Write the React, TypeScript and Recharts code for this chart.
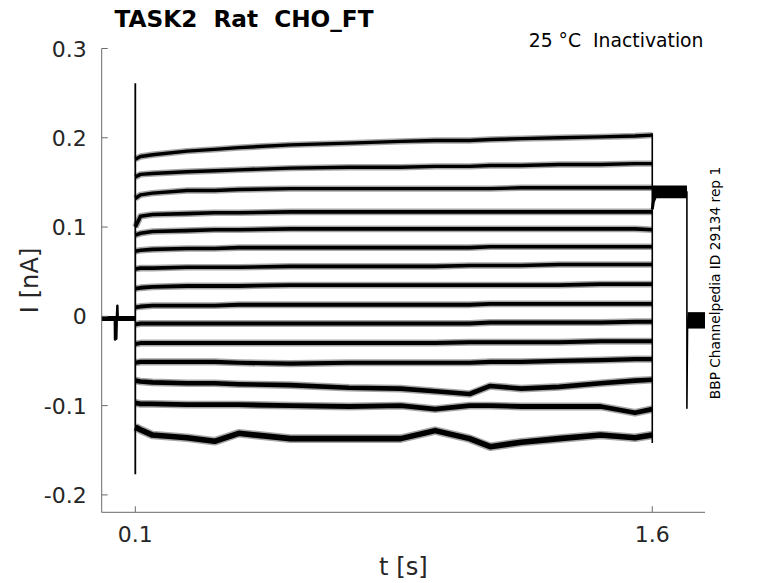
import React from 'react';
import { LineChart, Line, XAxis, YAxis } from 'recharts';

// ---- data ----
const STEP_T = [0.1, 0.115, 0.15, 0.25, 0.33, 0.4, 0.55, 0.72, 0.87, 0.97, 1.07, 1.13, 1.22, 1.33, 1.45, 1.55, 1.6];

const TRACE_01 = [0.176, 0.179, 0.181, 0.185, 0.187, 0.189, 0.192, 0.194, 0.196, 0.197, 0.197, 0.198, 0.199, 0.2, 0.201, 0.202, 0.203];
const TRACE_02 = [0.156, 0.159, 0.16, 0.162, 0.163, 0.164, 0.166, 0.167, 0.167, 0.168, 0.168, 0.169, 0.169, 0.17, 0.17, 0.171, 0.171];
const TRACE_03 = [0.132, 0.136, 0.138, 0.141, 0.141, 0.142, 0.143, 0.143, 0.143, 0.143, 0.143, 0.143, 0.144, 0.144, 0.144, 0.144, 0.144];
const TRACE_04 = [0.1, 0.112, 0.114, 0.115, 0.116, 0.116, 0.117, 0.117, 0.117, 0.117, 0.117, 0.117, 0.117, 0.117, 0.117, 0.117, 0.117];
const TRACE_05 = [0.091, 0.093, 0.095, 0.096, 0.097, 0.097, 0.098, 0.098, 0.098, 0.098, 0.098, 0.098, 0.098, 0.098, 0.098, 0.098, 0.097];
const TRACE_06 = [0.073, 0.074, 0.075, 0.076, 0.076, 0.077, 0.077, 0.077, 0.077, 0.077, 0.077, 0.078, 0.078, 0.078, 0.078, 0.078, 0.078];
const TRACE_07 = [0.053, 0.054, 0.054, 0.055, 0.055, 0.055, 0.056, 0.056, 0.056, 0.056, 0.057, 0.057, 0.057, 0.058, 0.058, 0.058, 0.058];
const TRACE_08 = [0.031, 0.032, 0.033, 0.034, 0.034, 0.034, 0.035, 0.035, 0.035, 0.035, 0.035, 0.035, 0.035, 0.035, 0.036, 0.036, 0.036];
const TRACE_09 = [0.01, 0.011, 0.012, 0.012, 0.012, 0.013, 0.013, 0.013, 0.013, 0.013, 0.013, 0.014, 0.014, 0.014, 0.014, 0.014, 0.014];
const TRACE_10 = [-0.009, -0.008, -0.008, -0.008, -0.008, -0.008, -0.008, -0.008, -0.008, -0.008, -0.008, -0.007, -0.007, -0.007, -0.007, -0.006, -0.006];
const TRACE_11 = [-0.031, -0.03, -0.03, -0.03, -0.03, -0.03, -0.03, -0.03, -0.03, -0.03, -0.029, -0.029, -0.029, -0.029, -0.028, -0.028, -0.028];
const TRACE_12 = [-0.052, -0.051, -0.051, -0.051, -0.051, -0.052, -0.053, -0.052, -0.052, -0.052, -0.052, -0.051, -0.051, -0.05, -0.049, -0.048, -0.048];
const TRACE_13 = [-0.072, -0.073, -0.074, -0.075, -0.075, -0.076, -0.077, -0.08, -0.081, -0.084, -0.087, -0.078, -0.081, -0.079, -0.075, -0.072, -0.071];
const TRACE_14 = [-0.097, -0.098, -0.098, -0.099, -0.099, -0.099, -0.1, -0.101, -0.1, -0.104, -0.1, -0.1, -0.101, -0.101, -0.101, -0.108, -0.104];
const TRACE_15 = [-0.124, -0.127, -0.133, -0.136, -0.14, -0.131, -0.137, -0.137, -0.137, -0.128, -0.137, -0.146, -0.141, -0.137, -0.133, -0.136, -0.133];

const STEP_TRACES = [TRACE_01, TRACE_02, TRACE_03, TRACE_04, TRACE_05, TRACE_06, TRACE_07, TRACE_08,
  TRACE_09, TRACE_10, TRACE_11, TRACE_12, TRACE_13, TRACE_14, TRACE_15];

// holding level before the step, plateau after the step, and tail level
const PRE_I = [-0.001, -0.003, -0.002, -0.004, -0.001, -0.002, -0.003, -0.002, -0.004, -0.001, -0.003, -0.002, -0.001, -0.004, -0.002];
const PLATEAU_I = [0.145, 0.143, 0.144, 0.141, 0.142, 0.14, 0.139, 0.141, 0.138, 0.137, 0.139, 0.136, 0.135, 0.138, 0.134];
const TAIL_I = [0.003, -0.004, 0.0, -0.008, -0.002, -0.011, -0.005, -0.001, -0.009, -0.006, -0.003, -0.012, -0.007, -0.004, -0.01];

// small artefact before the step
const BLIP_T = [0.0405, 0.041, 0.045, 0.0465, 0.048, 0.049, 0.0505];
const BLIP_I = [-0.002, -0.026, -0.025, 0.0, 0.012, 0.0, -0.002];

// transients
const ON_SPIKE_I = [0.261, -0.177];
const OFF_EDGE_I = [0.205, -0.142];
const OFF_DIP_T = [1.6, 1.603, 1.612];
const OFF_DIP_I = [0.12, 0.128, 0.137];
const END_EDGE_I = [0.14, -0.103, -0.004];

const T_START = 0.0025;
const T_ON = 0.1;
const T_OFF = 1.6;
const T_END_PLATEAU = 1.7005;
const T_TAIL = 1.7025;
const T_END = 1.753;

const X_TICKS = [0.1, 1.6];
const Y_TICKS = [-0.2, -0.1, 0, 0.1, 0.2, 0.3];

// ---- build series ----
type P = { t: number; v: number };

const preSeries: P[][] = PRE_I.map((lvl, i) => {
  const pts: P[] = [{ t: T_START, v: lvl }];
  if (i === 0) BLIP_T.forEach((t, k) => pts.push({ t, v: BLIP_I[k] }));
  pts.push({ t: T_ON, v: lvl });
  return pts;
});
const stepSeries: P[][] = STEP_TRACES.map((arr) => arr.map((v, k) => ({ t: STEP_T[k], v })));
const plateauSeries: P[][] = PLATEAU_I.map((v) => [{ t: T_OFF, v }, { t: T_END_PLATEAU, v }]);
const tailSeries: P[][] = TAIL_I.map((v) => [{ t: T_TAIL, v }, { t: T_END, v }]);
const onSpike: P[] = ON_SPIKE_I.map((v) => ({ t: T_ON, v }));
const offEdge: P[] = OFF_EDGE_I.map((v) => ({ t: T_OFF, v }));
const offDip: P[] = OFF_DIP_T.map((t, k) => ({ t, v: OFF_DIP_I[k] }));
const endEdge: P[] = [
  { t: T_END_PLATEAU, v: END_EDGE_I[0] },
  { t: T_END_PLATEAU, v: END_EDGE_I[1] },
  { t: T_TAIL, v: END_EDGE_I[2] },
];

// ---- styles ----
const FONT = 'DejaVu Sans';
const AXIS = '#6a6a6a';
const TEXT = '#262626';
const STEP_W = [3.4, 3.4, 3.4, 3.6, 3.6, 3.6, 3.6, 3.8, 3.8, 4, 4, 4.2, 4.6, 4.8, 5.6];

const W = 778;
const H = 583;
const PLOT = { left: 101.7, top: 48.5, right: 705, bottom: 512.3 };
const Y_AXIS_W = 60;
const X_AXIS_H = 40;

const YTick = (props: any) => {
  const { x, y, payload } = props;
  return (
    <g>
      <line x1={x} x2={x + 6} y1={y} y2={y} stroke={AXIS} strokeWidth={1} />
      <text x={x - 15} y={y + 8} textAnchor="end" fontSize={22} fill={TEXT} fontFamily={FONT}>
        {String(payload.value)}
      </text>
    </g>
  );
};

const XTick = (props: any) => {
  const { x, y, payload } = props;
  return (
    <g>
      <line x1={x} x2={x} y1={y} y2={y - 6} stroke={AXIS} strokeWidth={1} />
      <text x={x} y={y + 29.4} textAnchor="middle" fontSize={22} fill={TEXT} fontFamily={FONT}>
        {String(payload.value)}
      </text>
    </g>
  );
};

export default function App() {
  const lineProps = {
    dataKey: 'v',
    stroke: '#000',
    dot: false,
    activeDot: false,
    isAnimationActive: false,
    type: 'linear' as const,
    strokeLinejoin: 'round' as const,
  };
  return (
    <div style={{ position: 'absolute', left: 0, top: 0, width: W, height: H, background: '#fff' }}>
      <LineChart
        width={W}
        height={H}
        margin={{
          top: PLOT.top,
          left: PLOT.left - Y_AXIS_W,
          right: W - PLOT.right,
          bottom: H - PLOT.bottom - X_AXIS_H,
        }}
      >
        <XAxis
          type="number"
          dataKey="t"
          domain={[T_START, T_END]}
          allowDataOverflow
          ticks={X_TICKS}
          height={X_AXIS_H}
          tickSize={0}
          tickMargin={0}
          tickLine={false}
          tick={<XTick />}
          axisLine={{ stroke: AXIS, strokeWidth: 1 }}
        />
        <YAxis
          type="number"
          dataKey="v"
          domain={[-0.2195, 0.3]}
          allowDataOverflow
          ticks={Y_TICKS}
          width={Y_AXIS_W}
          tickSize={0}
          tickMargin={0}
          tickLine={false}
          tick={<YTick />}
          axisLine={{ stroke: AXIS, strokeWidth: 1 }}
        />
        {stepSeries.map((d, i) => (
          <Line key={'halo' + i} {...lineProps} data={d} strokeWidth={STEP_W[i] + 3} strokeOpacity={0.35} />
        ))}
        {preSeries.map((d, i) => (
          <Line key={'pre' + i} {...lineProps} data={d} strokeWidth={2.4} />
        ))}
        {stepSeries.map((d, i) => (
          <Line key={'step' + i} {...lineProps} data={d} strokeWidth={STEP_W[i]} />
        ))}
        {plateauSeries.map((d, i) => (
          <Line key={'plat' + i} {...lineProps} data={d} strokeWidth={3} />
        ))}
        {tailSeries.map((d, i) => (
          <Line key={'tail' + i} {...lineProps} data={d} strokeWidth={3} />
        ))}
        <Line {...lineProps} data={onSpike} strokeWidth={1.8} />
        <Line {...lineProps} data={offEdge} strokeWidth={1.6} />
        <Line {...lineProps} data={offDip} strokeWidth={3} />
        <Line {...lineProps} data={endEdge} strokeWidth={1.6} />
      </LineChart>
      <svg
        width={W}
        height={H}
        style={{ position: 'absolute', left: 0, top: 0, pointerEvents: 'none' }}
      >
        <text x={114.5} y={26.7} fontSize={23.2} fontWeight="bold" fill="#000" fontFamily={FONT} style={{ whiteSpace: 'pre' }}>
          {'TASK2  Rat  CHO_FT'}
        </text>
        <text x={703.5} y={47.3} fontSize={18.8} textAnchor="end" fill="#000" fontFamily={FONT} style={{ whiteSpace: 'pre' }}>
          {'25 °C  Inactivation'}
        </text>
        <text
          x={720}
          y={283}
          fontSize={13.7}
          textAnchor="middle"
          fill="#000"
          fontFamily={FONT}
          transform="rotate(-90 720 283)"
        >
          BBP Channelpedia ID 29134 rep 1
        </text>
        <text x={403.4} y={575} fontSize={24.2} textAnchor="middle" fill={TEXT} fontFamily={FONT}>
          t [s]
        </text>
        <text
          x={38.5}
          y={280.4}
          fontSize={24.2}
          textAnchor="middle"
          fill={TEXT}
          fontFamily={FONT}
          transform="rotate(-90 38.5 280.4)"
        >
          I [nA]
        </text>
      </svg>
    </div>
  );
}
